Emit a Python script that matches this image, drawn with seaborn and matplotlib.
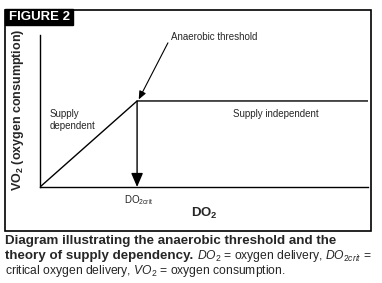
import matplotlib
matplotlib.use("Agg")
import matplotlib.pyplot as plt
import seaborn as sns
import pandas as pd
from matplotlib.patches import Rectangle

sns.set_theme(style="white")
plt.rcParams['font.family'] = ['Liberation Sans', 'DejaVu Sans']
plt.rcParams['mathtext.fontset'] = 'custom'
plt.rcParams['mathtext.rm'] = 'Liberation Sans'
plt.rcParams['mathtext.it'] = 'Liberation Sans:italic'
plt.rcParams['mathtext.bf'] = 'Liberation Sans:bold'

# data
do2 = [0.0, 0.296, 1.0]
vo2 = [0.0, 0.566, 0.566]
crit_x = 0.296
crit_y = 0.566
region_labels = ["Supply\ndependent", "Supply independent"]
figure_label = "FIGURE 2"
caption_bold_1 = "Diagram illustrating the anaerobic threshold and the"
caption_bold_2 = "theory of supply dependency."
caption_reg_2 = r"$\mathit{DO_2}$ = oxygen delivery, $\mathit{DO_{2crit}}$ ="
caption_reg_3 = r"critical oxygen delivery, $\mathit{VO_2}$ = oxygen consumption."

W, H = 382, 283
fig = plt.figure(figsize=(W / 100, H / 100), dpi=100)
fig.patch.set_facecolor("white")
renderer = fig.canvas.get_renderer()

def px(x, y):
    return x / W, 1 - y / H

# outer frame
frame = Rectangle(px(5, 231), (371 - 5) / W, (231 - 10) / H, transform=fig.transFigure,
                  fill=False, edgecolor="black", linewidth=1.2)
fig.add_artist(frame)
lab = Rectangle(px(5, 24.5), (73 - 5) / W, (24.5 - 9) / H, transform=fig.transFigure,
                facecolor="black", edgecolor="black")
fig.add_artist(lab)
fig.text(*px(9, 17), figure_label, color="white", fontsize=9.5, fontweight="bold",
         va="center", ha="left")

ax = fig.add_axes([40 / W, 1 - 187 / H, (368 - 40) / W, (187 - 35) / H])
ax.set_facecolor("none")
df = pd.DataFrame({"DO2": do2, "VO2": vo2})
sns.lineplot(data=df, x="DO2", y="VO2", ax=ax, color="black", linewidth=1.0)
ax.set_xlim(0, 1)
ax.set_ylim(0, 1)
ax.set_xticks([])
ax.set_yticks([])
ax.set_xlabel("")
ax.set_ylabel("")
for s in ["top", "right"]:
    ax.spines[s].set_visible(False)
for s in ["left", "bottom"]:
    ax.spines[s].set_color("black")
    ax.spines[s].set_linewidth(1.0)

# vertical arrow down to DO2crit
ax.annotate("", xy=(crit_x, 0.0), xytext=(crit_x, crit_y),
            arrowprops=dict(arrowstyle="-|>,head_length=0.7,head_width=0.3", color="black", lw=1.0,
                            shrinkA=0, shrinkB=0))
# anaerobic threshold annotation
ax.annotate("Anaerobic threshold", xy=(crit_x + 0.005, crit_y + 0.01), xytext=(0.4, 0.99),
            fontsize=7, ha="left", va="center",
            arrowprops=dict(arrowstyle="-|>,head_length=0.7,head_width=0.3", color="black", lw=0.8,
                            shrinkA=0, shrinkB=0, relpos=(0, 0.5)))

ax.text(0.03, 0.44, region_labels[0], fontsize=7, ha="left", va="center", linespacing=1.3)
ax.text(0.72, 0.48, region_labels[1], fontsize=7, ha="center", va="center")

fig.text(*px(139, 200), r"DO$_{\mathregular{2crit}}$", fontsize=7, ha="center", va="center")
fig.text(*px(204, 213), r"$\mathbf{DO_2}$", fontsize=9.5, ha="center", va="center")
fig.text(*px(18, 110), r"$\mathbf{VO_2}$ $\mathbf{(oxygen\ consumption)}$", fontsize=9, rotation=90,
         ha="center", va="center")

# caption, sized to the reference line widths
def fitted(x, ybase, s, target_w, **kw):
    t = fig.text(*px(x, ybase), s, fontsize=10, ha="left", va="baseline", **kw)
    w = t.get_window_extent(renderer).width
    t.set_fontsize(10 * target_w / w)
    return t

t1 = fitted(5, 244, caption_bold_1, 332, fontweight="bold")
bsize = t1.get_fontsize()
t2 = fig.text(*px(5, 259), caption_bold_2, fontsize=bsize, fontweight="bold",
              ha="left", va="baseline")
bb2 = t2.get_window_extent(renderer)
t2r = fitted(bb2.x1 + 4, 259, caption_reg_2, 175)
rsize = t2r.get_fontsize()
fig.text(*px(5, 274), caption_reg_3, fontsize=rsize, ha="left", va="baseline")

fig.savefig("out.png", dpi=100, facecolor="white")
